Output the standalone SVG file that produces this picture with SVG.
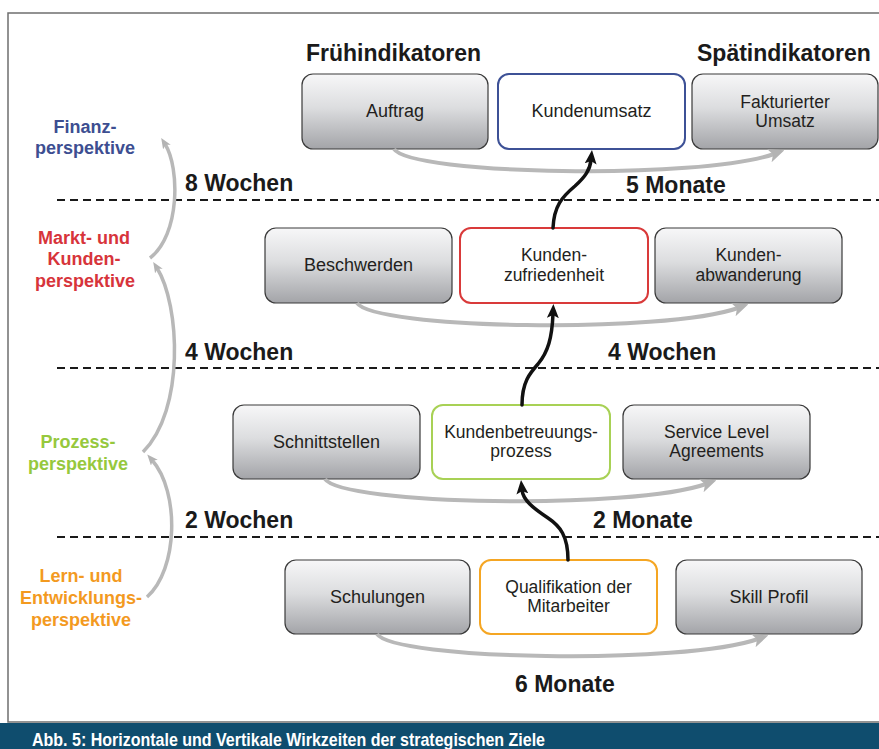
<svg xmlns="http://www.w3.org/2000/svg" width="879" height="749" viewBox="0 0 879 749">
  <defs>
    <linearGradient id="boxGray" x1="0" y1="0" x2="0" y2="1">
      <stop offset="0" stop-color="#f7f7f8"/>
      <stop offset="0.45" stop-color="#dcdddf"/>
      <stop offset="1" stop-color="#a3a4a8"/>
    </linearGradient>
    <marker id="arrBlack" viewBox="0 0 14 12" refX="4" refY="6" markerWidth="14" markerHeight="12" markerUnits="userSpaceOnUse" orient="auto">
      <path d="M0,0 L14,6 L0,12 L3,6 Z" fill="#111"/>
    </marker>
    <marker id="arrGray" viewBox="0 0 16 14" refX="5" refY="7" markerWidth="16" markerHeight="14" markerUnits="userSpaceOnUse" orient="auto">
      <path d="M0,0 L16,7 L0,14 L4,7 Z" fill="#b3b3b3"/>
    </marker>
    <marker id="arrBrace" viewBox="0 0 12 10" refX="4" refY="5" markerWidth="11" markerHeight="9" markerUnits="userSpaceOnUse" orient="auto">
      <path d="M0,0 L12,5 L0,10 L3,5 Z" fill="#b3b3b3"/>
    </marker>
  </defs>
  <style>
    .box { stroke: #3a3a3a; stroke-width: 1.2; fill: url(#boxGray); }
    .key { fill: #ffffff; stroke-width: 2; }
    .lbl { font-family: "Liberation Sans", Arial, sans-serif; font-size: 18px; fill: #231f20; text-anchor: middle; }
    .lbl2 { font-size: 17.5px; }
    .head { font-family: "Liberation Sans", Arial, sans-serif; font-size: 23px; font-weight: bold; fill: #1a1a1a; }
    .persp { font-family: "Liberation Sans", Arial, sans-serif; font-size: 18px; font-weight: bold; text-anchor: middle; }
    .dash { stroke: #1a1a1a; stroke-width: 2; stroke-dasharray: 8 5; fill: none; }
    .flow { stroke: #111; stroke-width: 3.5; fill: none; marker-end: url(#arrBlack); stroke-linecap: round; }
    .lag { stroke: #b8b8b8; stroke-width: 4; fill: none; marker-end: url(#arrGray); }
    .brace { stroke: #b8b8b8; stroke-width: 3.5; fill: none; marker-end: url(#arrBrace); }
  </style>

  <!-- page frame and caption bar -->
  <rect x="0" y="0" width="879" height="749" fill="#ffffff"/>
  <path d="M879 13 H8 V722 H879" fill="none" stroke="#6f6f6f" stroke-width="1.5"/>
  <rect x="0" y="723" width="879" height="26" fill="#0f4d6e"/>
  <text x="32" y="746" font-family="Liberation Sans, Arial, sans-serif" font-size="19" font-weight="bold" fill="#ffffff" textLength="513" lengthAdjust="spacingAndGlyphs">Abb. 5: Horizontale und Vertikale Wirkzeiten der strategischen Ziele</text>

  <!-- column headings -->
  <text class="head" x="306" y="61">Frühindikatoren</text>
  <text class="head" x="697" y="61">Spätindikatoren</text>

  <!-- level separators -->
  <g id="separators">
    <line class="dash" x1="57" y1="200" x2="879" y2="200"/>
    <line class="dash" x1="57" y1="368" x2="879" y2="368"/>
    <line class="dash" x1="57" y1="537" x2="879" y2="537"/>
  </g>

  <!-- time labels -->
  <g id="durations" class="head">
    <text x="185" y="191">8 Wochen</text>
    <text x="626" y="193">5 Monate</text>
    <text x="185" y="360">4 Wochen</text>
    <text x="608" y="360">4 Wochen</text>
    <text x="185" y="528">2 Wochen</text>
    <text x="593" y="528">2 Monate</text>
    <text x="515" y="692">6 Monate</text>
  </g>

  <!-- perspective labels -->
  <g id="perspectives" class="persp">
    <text x="85" y="133" fill="#3d4e91">Finanz-</text>
    <text x="85" y="154" fill="#3d4e91">perspektive</text>
    <text x="84" y="244" fill="#d7343b">Markt- und</text>
    <text x="84" y="265" fill="#d7343b">Kunden-</text>
    <text x="85" y="287" fill="#d7343b">perspektive</text>
    <text x="78" y="448" fill="#96c83d">Prozess-</text>
    <text x="78" y="470" fill="#96c83d">perspektive</text>
    <text x="81" y="582" fill="#f39a1f">Lern- und</text>
    <text x="81" y="604" fill="#f39a1f">Entwicklungs-</text>
    <text x="81" y="626" fill="#f39a1f">perspektive</text>
  </g>

  <!-- nodes -->
  <g id="auftrag">
    <rect class="box" x="302" y="74" width="186" height="75" rx="11"/>
    <text class="lbl" x="395" y="117">Auftrag</text>
  </g>
  <g id="kundenumsatz">
    <rect class="key" x="498" y="74" width="187" height="75" rx="11" stroke="#3d5196"/>
    <text class="lbl" x="591.5" y="117">Kundenumsatz</text>
  </g>
  <g id="fakturierter-umsatz">
    <rect class="box" x="692" y="74" width="186" height="75" rx="11"/>
    <text class="lbl lbl2" x="785" y="107.5">Fakturierter</text>
    <text class="lbl lbl2" x="785" y="127">Umsatz</text>
  </g>

  <g id="beschwerden">
    <rect class="box" x="265" y="228" width="187" height="75" rx="11"/>
    <text class="lbl" x="358.5" y="271">Beschwerden</text>
  </g>
  <g id="kundenzufriedenheit">
    <rect class="key" x="460" y="228" width="188" height="75" rx="11" stroke="#d93a3a"/>
    <text class="lbl lbl2" x="554" y="261">Kunden-</text>
    <text class="lbl lbl2" x="554" y="280.5">zufriedenheit</text>
  </g>
  <g id="kundenabwanderung">
    <rect class="box" x="655" y="228" width="187" height="75" rx="11"/>
    <text class="lbl lbl2" x="748.5" y="261">Kunden-</text>
    <text class="lbl lbl2" x="748.5" y="280.5">abwanderung</text>
  </g>

  <g id="schnittstellen">
    <rect class="box" x="233" y="405" width="187" height="74" rx="11"/>
    <text class="lbl" x="326.5" y="448">Schnittstellen</text>
  </g>
  <g id="kundenbetreuungsprozess">
    <rect class="key" x="432" y="405" width="178" height="74" rx="11" stroke="#a8d155"/>
    <text class="lbl lbl2" x="521" y="437.5">Kundenbetreuungs-</text>
    <text class="lbl lbl2" x="521" y="457">prozess</text>
  </g>
  <g id="service-level-agreements">
    <rect class="box" x="623" y="405" width="187" height="74" rx="11"/>
    <text class="lbl lbl2" x="716.5" y="437.5">Service Level</text>
    <text class="lbl lbl2" x="716.5" y="457">Agreements</text>
  </g>

  <g id="schulungen">
    <rect class="box" x="285" y="560" width="185" height="74" rx="11"/>
    <text class="lbl" x="377.5" y="603">Schulungen</text>
  </g>
  <g id="qualifikation">
    <rect class="key" x="480" y="560" width="177" height="74" rx="11" stroke="#f5a623"/>
    <text class="lbl lbl2" x="568.5" y="592.5">Qualifikation der</text>
    <text class="lbl lbl2" x="568.5" y="612">Mitarbeiter</text>
  </g>
  <g id="skill-profil">
    <rect class="box" x="676" y="560" width="186" height="74" rx="11"/>
    <text class="lbl" x="769" y="603">Skill Profil</text>
  </g>

  <!-- connectors -->
  <g id="connectors">
    <!-- horizontal lag arcs, early to late indicator -->
    <path class="lag" d="M394 149 C411 175, 700 180, 774 154"/>
    <path class="lag" d="M357 303 C374 329, 664 334, 738 308"/>
    <path class="lag" d="M325 479 C342 505, 632 510, 706 484"/>
    <path class="lag" d="M377 634 C394 660, 684 665, 758 639"/>

    <!-- vertical cause-effect chain -->
    <path class="flow" d="M568 560 C568 536, 560 526, 548 518 C533 508, 523 500, 522 490"/>
    <path class="flow" d="M522 405 C522 382, 530 373, 538 364 C548 352, 552 338, 553 314"/>
    <path class="flow" d="M553 228 C554 206, 562 197, 575 186 C585 177, 590 170, 591 160"/>

    <!-- perspective braces -->
    <path class="brace" d="M150 258 C180 235, 180 168, 165 144"/>
    <path class="brace" d="M143 452 C185 410, 180 305, 157 268"/>
    <path class="brace" d="M147 597 C178 570, 180 492, 152 460"/>
  </g>
</svg>
